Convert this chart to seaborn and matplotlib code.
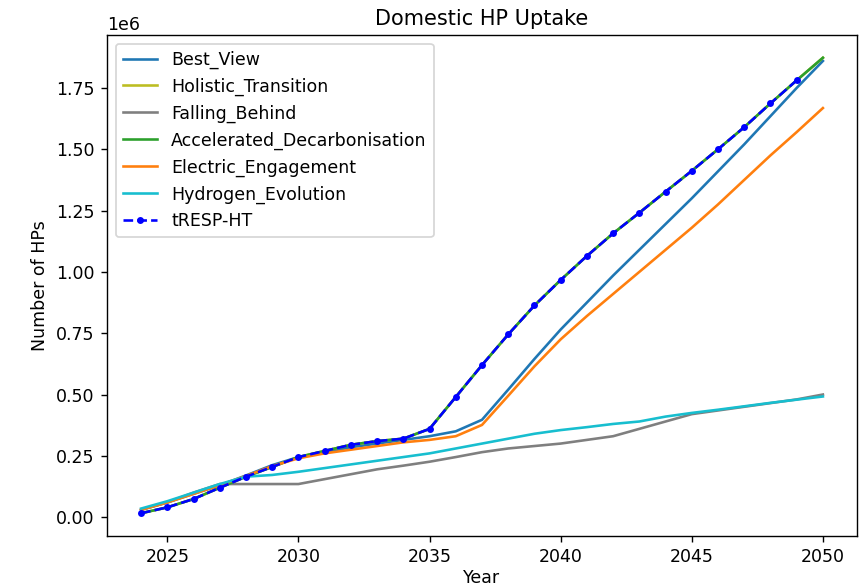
import numpy as np
import matplotlib
matplotlib.use("Agg")
import matplotlib.pyplot as plt
import seaborn as sns

years = list(range(2024, 2051))
tresp_years = list(range(2024, 2050))

best_view = [0.030, 0.060, 0.095, 0.130, 0.170, 0.212, 0.245, 0.265, 0.285, 0.300,
             0.315, 0.330, 0.350, 0.397, 0.520, 0.645, 0.765, 0.875, 0.985, 1.090,
             1.195, 1.300, 1.410, 1.520, 1.635, 1.750, 1.860]
accelerated = [0.016, 0.040, 0.074, 0.120, 0.165, 0.205, 0.245, 0.270, 0.295, 0.310,
               0.320, 0.360, 0.490, 0.620, 0.745, 0.863, 0.967, 1.065, 1.157, 1.241,
               1.327, 1.412, 1.500, 1.590, 1.687, 1.781, 1.873]
holistic = accelerated
falling_behind = [0.030, 0.060, 0.100, 0.135, 0.135, 0.135, 0.135, 0.155, 0.175, 0.195,
                  0.210, 0.226, 0.245, 0.265, 0.280, 0.290, 0.300, 0.315, 0.330, 0.360,
                  0.390, 0.420, 0.435, 0.450, 0.465, 0.480, 0.500]
electric = [0.030, 0.060, 0.095, 0.130, 0.168, 0.208, 0.240, 0.260, 0.275, 0.290,
            0.305, 0.315, 0.330, 0.376, 0.495, 0.615, 0.725, 0.820, 0.910, 1.000,
            1.090, 1.180, 1.275, 1.375, 1.475, 1.570, 1.668]
hydrogen = [0.035, 0.065, 0.100, 0.135, 0.165, 0.172, 0.185, 0.200, 0.215, 0.230,
            0.245, 0.260, 0.280, 0.300, 0.320, 0.340, 0.355, 0.367, 0.380, 0.390,
            0.410, 0.425, 0.438, 0.452, 0.466, 0.479, 0.492]
tresp = accelerated[:-1]

scale = 1e6

fig, ax = plt.subplots(figsize=(859 / 125, 587 / 125), dpi=125)

series = [
    ("Best_View", best_view, "tab:blue"),
    ("Holistic_Transition", holistic, "tab:olive"),
    ("Falling_Behind", falling_behind, "tab:gray"),
    ("Accelerated_Decarbonisation", accelerated, "tab:green"),
    ("Electric_Engagement", electric, "tab:orange"),
    ("Hydrogen_Evolution", hydrogen, "tab:cyan"),
]
for name, vals, col in series:
    sns.lineplot(x=years, y=np.array(vals) * scale, color=col, label=name, ax=ax)

sns.lineplot(x=tresp_years, y=np.array(tresp) * scale, color="blue", linestyle="--",
             marker="o", markersize=4, markeredgewidth=0, label="tRESP-HT", ax=ax)

ax.set_title("Domestic HP Uptake")
ax.set_xlabel("Year", labelpad=1.5)
ax.set_ylabel("Number of HPs")
ax.legend(loc="upper left")

plt.subplots_adjust(left=107 / 859, right=857 / 859, top=1 - 35 / 587, bottom=1 - 536 / 587)
plt.savefig("out.png", dpi=125)
